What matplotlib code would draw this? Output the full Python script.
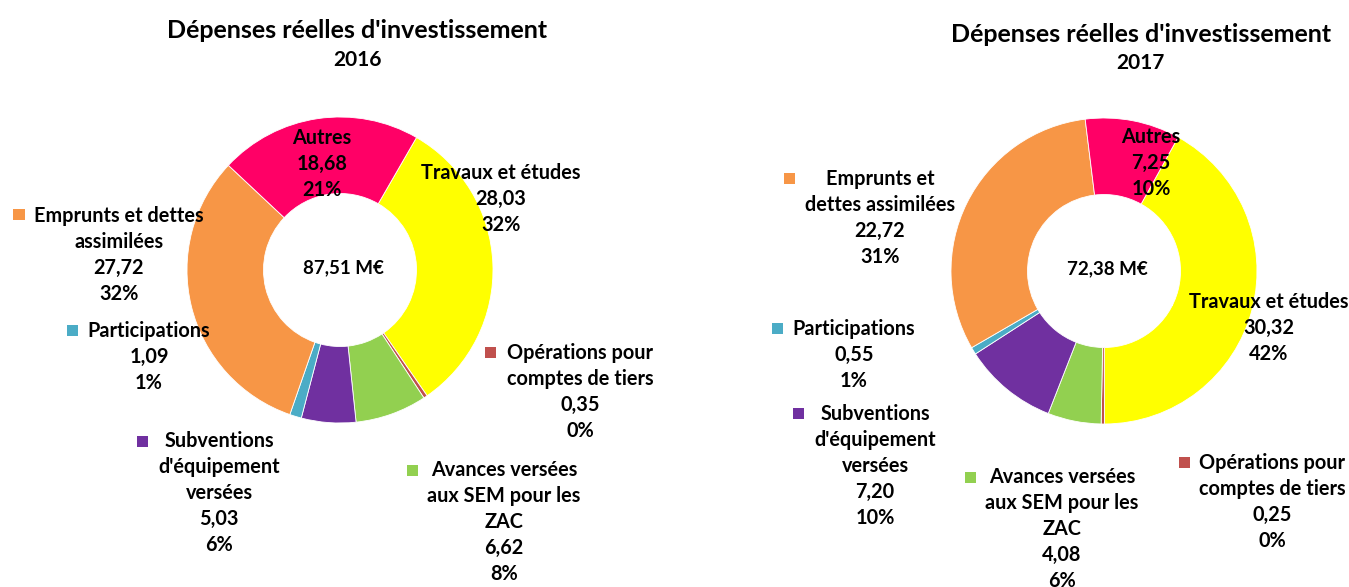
import matplotlib
matplotlib.use("Agg")
import matplotlib.pyplot as plt
from matplotlib.patches import Rectangle

# data
categories = ["Travaux et études", "Opérations pour comptes de tiers",
              "Avances versées aux SEM pour les ZAC", "Subventions d'équipement versées",
              "Participations", "Emprunts et dettes assimilées", "Autres"]
colors = ["#FFFF00", "#C0504D", "#92D050", "#7030A0", "#4BACC6", "#F79646", "#FF0066"]
years = ["2016", "2017"]
values_2016 = [28.03, 0.35, 6.62, 5.03, 1.09, 27.72, 18.68]
values_2017 = [30.32, 0.25, 4.08, 7.20, 0.55, 22.72, 7.25]
totals = [87.51, 72.38]

# label wrapping differs between the two charts
names_2016 = ["Travaux et études", "Opérations pour\ncomptes de tiers",
              "Avances versées\naux SEM pour les\nZAC", "Subventions\nd'équipement\nversées",
              "Participations", "Emprunts et dettes\nassimilées", "Autres"]
names_2017 = ["Travaux et études", "Opérations pour\ncomptes de tiers",
              "Avances versées\naux SEM pour les\nZAC", "Subventions\nd'équipement\nversées",
              "Participations", "Emprunts et\ndettes assimilées", "Autres"]

# layout in pixels (x, y from top-left)
W, H = 1349, 587
centers = [(340, 270), (1104, 271)]
radius = 153
title_pos = [(357, 30), (1141, 34)]
year_pos = [(358, 60), (1140, 63)]
label_pos = [
    [(501, 199), (580, 392), (504, 522), (219, 493), (149, 357), (119, 255), (322, 164)],
    [(1269, 328), (1272, 502), (1062, 529), (875, 466), (854, 355), (880, 218), (1151, 163)],
]
key_pos = [
    [None, (491, 352), (412, 470), (142, 441), (72, 330), (19, 214), None],
    [(1167, 300), (1184, 462), (970, 477), (798, 413), (777, 328), (789, 178), None],
]

plt.rcParams["font.family"] = ["Lato", "DejaVu Sans"]
plt.rcParams["font.weight"] = "bold"

fig = plt.figure(figsize=(W / 100, H / 100), dpi=100)
fig.patch.set_facecolor("white")


def fx(x):
    return x / W


def fy(y):
    return 1 - y / H


def fmt(v):
    return f"{v:.2f}".replace(".", ",")


for i, vals in enumerate([values_2016, values_2017]):
    names = [names_2016, names_2017][i]
    cx, cy = centers[i]
    ax = fig.add_axes([fx(cx - radius), fy(cy + radius), 2 * radius / W, 2 * radius / H])
    ax.pie(vals, colors=colors, startangle=60 if i == 0 else 61, counterclock=False,
           radius=1, wedgeprops=dict(width=0.5, edgecolor="white", linewidth=0.6))
    ax.set_xlim(-1, 1)
    ax.set_ylim(-1, 1)
    ax.axis("off")

    fig.text(fx(cx + 3), fy(cy - 2), fmt(totals[i]) + " M€", ha="center", va="center",
             fontsize=13.5, fontweight="bold")
    fig.text(fx(title_pos[i][0]), fy(title_pos[i][1]), "Dépenses réelles d'investissement",
             ha="center", va="center", fontsize=18, fontweight="bold")
    fig.text(fx(year_pos[i][0]), fy(year_pos[i][1]), years[i],
             ha="center", va="center", fontsize=15, fontweight="bold")

    for j, v in enumerate(vals):
        pct = round(v / totals[i] * 100)
        s = f"{names[j]}\n{fmt(v)}\n{pct}%"
        lx, ly = label_pos[i][j]
        fig.text(fx(lx), fy(ly), s, ha="center", va="center", fontsize=14.3,
                 fontweight="bold", linespacing=1.38)
        if key_pos[i][j] is not None:
            kx, ky = key_pos[i][j]
            kc = "white" if j == 0 else colors[j]
            fig.add_artist(Rectangle((fx(kx - 5.5), fy(ky + 5.5)), 11 / W, 11 / H,
                                     transform=fig.transFigure, facecolor=kc,
                                     edgecolor="none"))

fig.savefig("out.png", dpi=100)
